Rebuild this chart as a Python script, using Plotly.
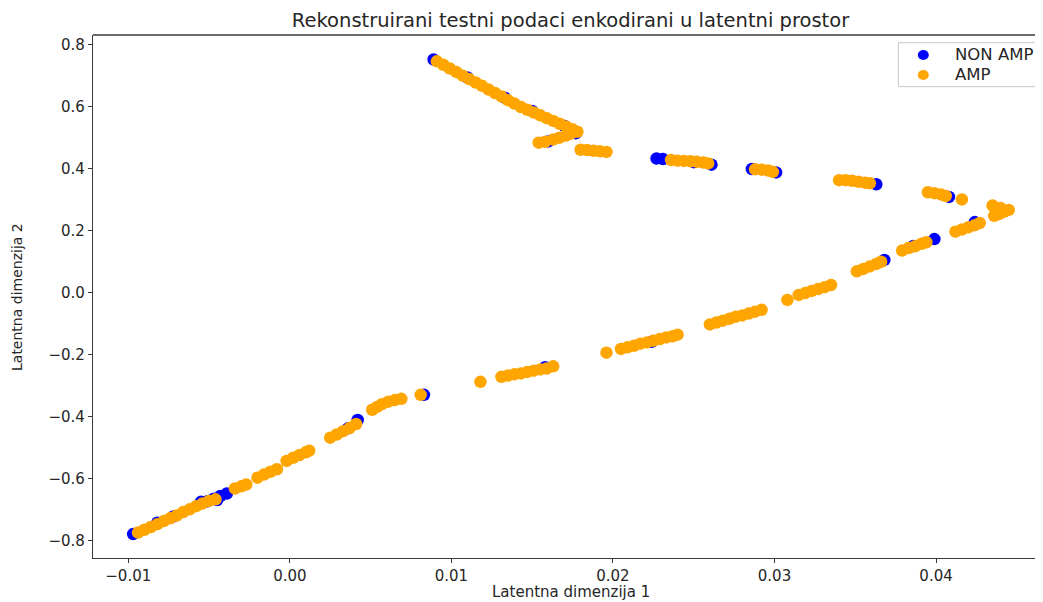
import plotly.graph_objects as go

# ---- data ----
non_amp_x = [0.0089, 0.0110, 0.0133, 0.0150, 0.0170, 0.0177, 0.0160,
             0.0227, 0.0231, 0.0250, 0.0261,
             0.0286, 0.0301,
             0.0363,
             0.0408,
             0.0424,
             0.0386, 0.0399,
             0.0368,
             0.0224,
             0.0158,
             0.0083,
             0.0042, 0.0036,
             -0.0051, -0.0047, -0.0043, -0.0039, -0.0045, -0.0055,
             -0.0097, -0.0082, -0.0072]
non_amp_y = [0.751, 0.693, 0.628, 0.585, 0.537, 0.513, 0.487,
             0.432, 0.430, 0.420, 0.412,
             0.398, 0.387,
             0.349,
             0.308,
             0.227,
             0.150, 0.172,
             0.105,
             -0.159,
             -0.241,
             -0.330,
             -0.411, -0.438,
             -0.673, -0.665, -0.656, -0.648, -0.669, -0.675,
             -0.779, -0.742, -0.722]

amp_x = [0.0091, 0.0095, 0.0099, 0.0103, 0.0107, 0.0111, 0.0115, 0.0119, 0.0123,
         0.0127, 0.0131, 0.0135, 0.0139, 0.0143, 0.0147, 0.0151, 0.0155, 0.0159,
         0.0163, 0.0167, 0.0171, 0.0175, 0.0178,
         0.0154, 0.0158, 0.0163, 0.0167, 0.0171, 0.0174,
         0.0180, 0.0184, 0.0188, 0.0192, 0.0196,
         0.0236, 0.0240, 0.0244, 0.0248, 0.0252, 0.0256, 0.0259,
         0.0288, 0.0292, 0.0296, 0.0299,
         0.0340, 0.0344, 0.0348, 0.0352, 0.0356, 0.0359,
         0.0395, 0.0399, 0.0403, 0.0406, 0.0416,
         0.0435, 0.0440, 0.0445, 0.0442, 0.0439, 0.0436,
         0.0412, 0.0416, 0.0420, 0.0424, 0.0427,
         0.0379, 0.0383, 0.0387, 0.0391, 0.0394,
         0.0351, 0.0355, 0.0359, 0.0363, 0.0366,
         0.0308, 0.0315, 0.0319, 0.0323, 0.0327, 0.0331, 0.0335,
         0.0260, 0.0264, 0.0268, 0.0272, 0.0276, 0.0280, 0.0284, 0.0288, 0.0292,
         0.0196, 0.0205, 0.0209, 0.0213, 0.0217, 0.0221, 0.0225, 0.0229, 0.0233,
         0.0237, 0.0240,
         0.0118, 0.0131, 0.0135, 0.0139, 0.0143, 0.0147, 0.0151, 0.0155, 0.0159,
         0.0163,
         0.0081,
         0.0051, 0.0054, 0.0057, 0.0061, 0.0065, 0.0069,
         0.0025, 0.0029, 0.0033, 0.0037, 0.0041,
         -0.0002, 0.0002, 0.0006, 0.0010, 0.0012,
         -0.0020, -0.0016, -0.0012, -0.0008,
         -0.0034, -0.0030, -0.0027,
         -0.0094, -0.0090, -0.0086, -0.0082, -0.0078, -0.0074, -0.0070, -0.0066,
         -0.0062, -0.0058, -0.0054, -0.0050, -0.0046]
amp_y = [0.745, 0.734, 0.722, 0.711, 0.699, 0.688, 0.677, 0.666, 0.654,
         0.643, 0.632, 0.620, 0.609, 0.598, 0.589, 0.580, 0.571, 0.562,
         0.553, 0.544, 0.535, 0.526, 0.518,
         0.483, 0.486, 0.493, 0.499, 0.506, 0.512,
         0.460, 0.459, 0.457, 0.455, 0.453,
         0.427, 0.425, 0.424, 0.423, 0.421, 0.419, 0.416,
         0.397, 0.396, 0.393, 0.389,
         0.362, 0.362, 0.360, 0.357, 0.354, 0.352,
         0.323, 0.320, 0.316, 0.311, 0.300,
         0.280, 0.272, 0.266, 0.260, 0.253, 0.247,
         0.196, 0.203, 0.210, 0.217, 0.224,
         0.135, 0.143, 0.149, 0.157, 0.162,
         0.068, 0.076, 0.084, 0.092, 0.099,
         -0.024, -0.008, -0.002, 0.005, 0.011, 0.017, 0.024,
         -0.103, -0.097, -0.091, -0.085, -0.078, -0.074, -0.068, -0.062, -0.056,
         -0.194, -0.182, -0.177, -0.172, -0.165, -0.161, -0.156, -0.150, -0.145,
         -0.141, -0.136,
         -0.288, -0.272, -0.268, -0.264, -0.261, -0.256, -0.252, -0.248, -0.245,
         -0.238,
         -0.330,
         -0.378, -0.369, -0.360, -0.352, -0.347, -0.343,
         -0.468, -0.458, -0.447, -0.437, -0.424,
         -0.543, -0.533, -0.524, -0.515, -0.510,
         -0.597, -0.587, -0.578, -0.570,
         -0.632, -0.625, -0.619,
         -0.774, -0.765, -0.756, -0.747, -0.737, -0.728, -0.719, -0.708,
         -0.699, -0.689, -0.680, -0.672, -0.667]

series_names = ["NON AMP", "AMP"]
series_colors = ["#0000ff", "#ffa500"]

x_ticks = [-0.01, 0.00, 0.01, 0.02, 0.03, 0.04]
x_tick_labels = ["\u22120.01", "0.00", "0.01", "0.02", "0.03", "0.04"]
y_ticks = [-0.8, -0.6, -0.4, -0.2, 0.0, 0.2, 0.4, 0.6, 0.8]
y_tick_labels = ["\u22120.8", "\u22120.6", "\u22120.4", "\u22120.2", "0.0", "0.2", "0.4", "0.6", "0.8"]

title_text = "Rekonstruirani testni podaci enkodirani u latentni prostor"
x_label = "Latentna dimenzija 1"
y_label = "Latentna dimenzija 2"

FONT = "DejaVu Sans"
TXT = "#262626"
OFF = 8  # page body margin offset
W, H = 1043 - OFF, 602 - OFF
L, R, T, B = 93 - OFF, 1043 - OFF, 35 - OFF, 558 - OFF

def px_x(p):
    return (p - OFF - L) / (R - L)

def px_y(p):
    return (B - (p - OFF)) / (B - T)

fig = go.Figure()
fig.add_trace(go.Scatter(x=non_amp_x, y=non_amp_y, mode="markers", name=series_names[0],
                         showlegend=False,
                         marker=dict(color=series_colors[0], size=12.5, line=dict(width=0))))
fig.add_trace(go.Scatter(x=amp_x, y=amp_y, mode="markers", name=series_names[1],
                         showlegend=False,
                         marker=dict(color=series_colors[1], size=12.5, line=dict(width=0))))

axis_common = dict(showgrid=False, zeroline=False, showline=True, linecolor="#3a3a3a",
                   linewidth=1.3, ticks="outside", ticklen=4, tickwidth=1.2,
                   tickcolor="#3a3a3a", tickfont=dict(family=FONT, size=15, color=TXT),
                   automargin=False)

fig.update_layout(
    width=W, height=H,
    margin=dict(l=L, r=W - R, t=T, b=H - B, pad=0),
    paper_bgcolor="white", plot_bgcolor="white",
    showlegend=False,
    xaxis=dict(range=[-0.012184, 0.046621], tickvals=x_ticks, ticktext=x_tick_labels,
               **axis_common),
    yaxis=dict(range=[-0.856, 0.830], tickvals=y_ticks, ticktext=y_tick_labels,
               **axis_common),
    title=dict(text=title_text, x=(570.5 - OFF) / W, xanchor="center", xref="container",
               y=1 - (20 - OFF) / H, yanchor="middle", yref="container",
               font=dict(family=FONT, size=19.5, color=TXT)),
)
# top spine
fig.add_shape(type="line", xref="paper", yref="paper", x0=0, x1=1, y0=1, y1=1,
              line=dict(color="#3a3a3a", width=1.3))

# legend box (drawn in pixel positions like the matplotlib legend)
fig.add_shape(type="rect", xref="paper", yref="paper",
              x0=px_x(898.3), x1=px_x(1040.5), y0=px_y(86.7), y1=px_y(42.7),
              line=dict(color="#c8c8c8", width=1), fillcolor="rgba(255,255,255,0.85)",
              layer="above")
legend_rows_y = [55, 75]
legend_text_y = [54, 74]
for name, color, ym, yt in zip(series_names, series_colors, legend_rows_y, legend_text_y):
    fig.add_shape(type="circle", xref="paper", yref="paper", xsizemode="pixel", ysizemode="pixel",
                  xanchor=px_x(923.3), yanchor=px_y(ym), x0=-5.5, x1=5.5, y0=-5, y1=5,
                  fillcolor=color, line=dict(width=0), layer="above")
    fig.add_annotation(text=name, xref="paper", yref="paper", x=px_x(953), y=px_y(yt),
                       xanchor="left", yanchor="middle", showarrow=False,
                       font=dict(family=FONT, size=16.5, color=TXT))

# axis labels
fig.add_annotation(text=x_label, xref="paper", yref="paper",
                   x=px_x(570.5), y=px_y(602), xanchor="center", yanchor="bottom",
                   showarrow=False, borderpad=0,
                   font=dict(family=FONT, size=15, color=TXT))
fig.add_annotation(text=y_label, xref="paper", yref="paper", textangle=-90,
                   x=px_x(17), y=px_y(297), xanchor="center", yanchor="middle",
                   showarrow=False, font=dict(family=FONT, size=14, color=TXT))

fig.write_html("out.html")
